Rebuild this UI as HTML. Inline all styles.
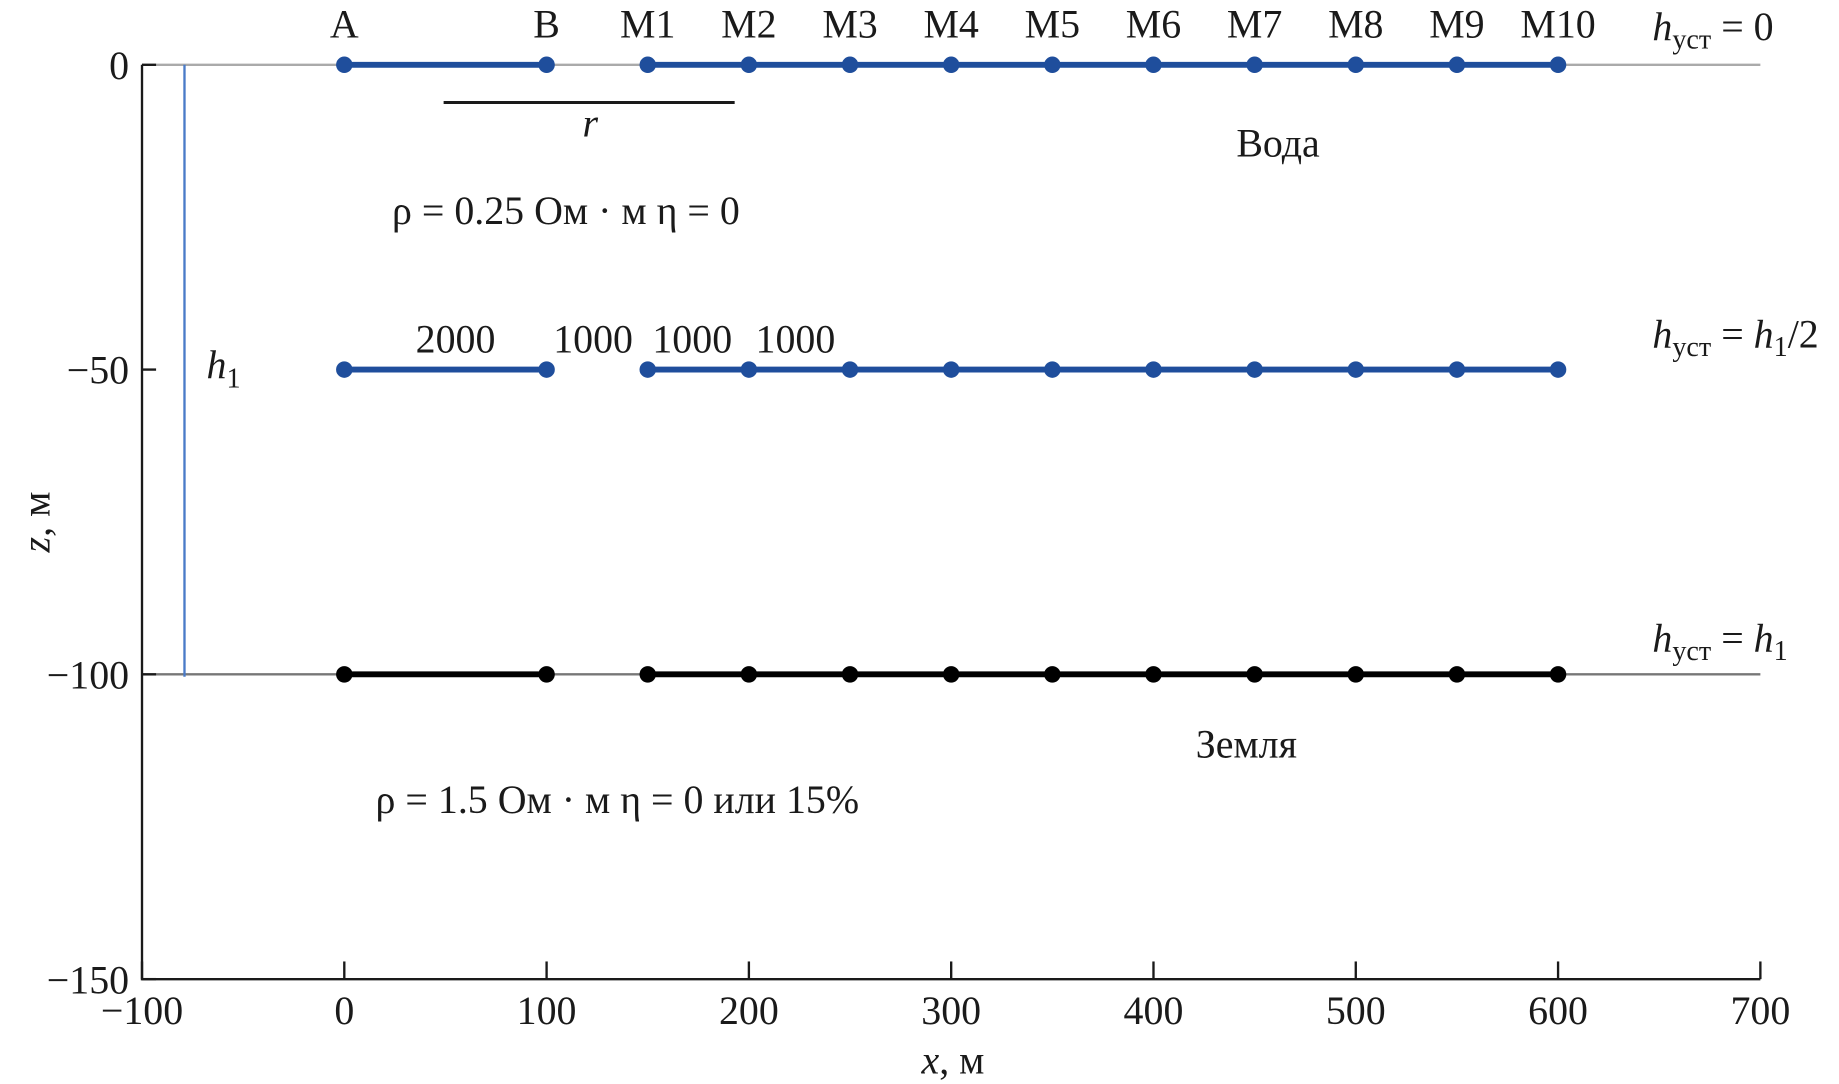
<!DOCTYPE html>
<html><head><meta charset="utf-8"><style>
html,body{margin:0;padding:0;background:#fff;}
svg{display:block;}
text{font-family:"Liberation Serif","DejaVu Serif",serif;fill:#1a1a1a;}
</style></head><body>
<svg id="chart" width="1839" height="1084" viewBox="0 0 1567 920" preserveAspectRatio="none" xmlns="http://www.w3.org/2000/svg">
<g id="g"></g>
</svg>
<script>
const xTicks = [-100,0,100,200,300,400,500,600,700];
const yTicks = [0,-50,-100,-150];
const electrodeNames = ["A","B","M1","M2","M3","M4","M5","M6","M7","M8","M9","M10"];
const electrodeX = [0,100,150,200,250,300,350,400,450,500,550,600];
const levels = [0,-50,-100];
const levelColors = ["#1f4e9c","#1f4e9c","#000000"];
const segLabelsText = ["2000","1000","1000","1000"];
const segLabelsX = [55,123,172,223];

const NS="http://www.w3.org/2000/svg";
const g=document.getElementById('g');
const X0=121,X1=1500,Y0=55,Y1=831;
function sx(v){return X0+(v+100)/800*(X1-X0);}
function sy(v){return Y0+(0-v)/150*(Y1-Y0);}
function mk(tag,attrs,parent){const e=document.createElementNS(NS,tag);for(const k in attrs)e.setAttribute(k,attrs[k]);(parent||g).appendChild(e);return e;}
function txt(s,x,y,size,anchor,extra){const t=mk('text',Object.assign({x:x,y:y,'font-size':size,'text-anchor':anchor||'middle'},extra||{}));t.innerHTML=s;return t;}

let l=mk('line',{x1:X0,y1:sy(0),x2:X1,y2:sy(0),stroke:'#aaaaaa','stroke-width':2});


l=mk('line',{x1:X0,y1:sy(-100),x2:X1,y2:sy(-100),stroke:'#777777','stroke-width':2});



l=mk('path',{d:`M${X0},${sy(0)}V${Y1}H${X1}`,fill:'none',stroke:'#1a1a1a','stroke-width':2});


xTicks.forEach((v,i)=>{
  const tk=mk('line',{x1:sx(v),y1:Y1,x2:sx(v),y2:Y1-15,stroke:'#1a1a1a','stroke-width':2});
  
  
  const t=txt((v<0?'\u2212'+(-v):String(v)),sx(v),869,34);
  
  
});
yTicks.forEach(v=>{
  const tk=mk('line',{x1:X0,y1:sy(v),x2:X0+12,y2:sy(v),stroke:'#1a1a1a','stroke-width':2});
  
  
  const t=txt((v<0?'\u2212'+(-v):String(v)),110,sy(v)+12,34,'end');
  
  
});

l=mk('line',{x1:sx(-79),y1:sy(0),x2:sx(-79),y2:sy(-100)+2,stroke:'#4a7bc8','stroke-width':2});



levels.forEach((z,li)=>{
  const c=levelColors[li];
  const s1=mk('line',{x1:sx(electrodeX[0]),y1:sy(z),x2:sx(electrodeX[1]),y2:sy(z),stroke:c,'stroke-width':5});
  
  
  const s2=mk('line',{x1:sx(electrodeX[2]),y1:sy(z),x2:sx(electrodeX[electrodeX.length-1]),y2:sy(z),stroke:c,'stroke-width':5});
  
  
  electrodeX.forEach((x,i)=>{
    const d=mk('circle',{cx:sx(x),cy:sy(z),r:7,fill:c});
    
    
  });
});
electrodeNames.forEach((n,i)=>{
  const t=txt(n,sx(electrodeX[i]),32,34);
  
  
});
segLabelsText.forEach((s,i)=>{
  const t=txt(s,sx(segLabelsX[i]),299,34);
  
  
});

l=mk('line',{x1:378,y1:87,x2:626,y2:87,stroke:'#1a1a1a','stroke-width':2.5});


</script>
<svg style="position:absolute;left:0;top:0" width="1839" height="1084" viewBox="0 0 1567 920" preserveAspectRatio="none" xmlns="http://www.w3.org/2000/svg">
<g font-family="Liberation Serif, serif" fill="#1a1a1a" font-size="34">
<text x="503" y="116" text-anchor="middle" font-style="italic">r</text>
<text x="1089" y="133" text-anchor="middle">Вода</text>
<text x="334" y="190">ρ = 0.25 Ом · м η = 0</text>
<text x="176" y="321" font-style="italic">h<tspan font-size="24" dy="8" font-style="normal">1</tspan></text>
<text x="1062" y="643" text-anchor="middle">Земля</text>
<text x="320" y="690">ρ = 1.5 Ом · м η = 0 или 15%</text>
<text x="1408" y="34"><tspan font-style="italic">h</tspan><tspan font-size="24" dy="7">уст</tspan><tspan dy="-7"> = 0</tspan></text>
<text x="1408" y="295"><tspan font-style="italic">h</tspan><tspan font-size="24" dy="7">уст</tspan><tspan dy="-7"> = </tspan><tspan font-style="italic">h</tspan><tspan font-size="24" dy="7">1</tspan><tspan dy="-7">/2</tspan></text>
<text x="1408" y="553"><tspan font-style="italic">h</tspan><tspan font-size="24" dy="7">уст</tspan><tspan dy="-7"> = </tspan><tspan font-style="italic">h</tspan><tspan font-size="24" dy="7">1</tspan></text>
<text x="812" y="911" text-anchor="middle"><tspan font-style="italic">x</tspan>, м</text>
<text transform="translate(42,443) rotate(-90)" text-anchor="middle"><tspan font-style="italic">z</tspan>, м</text>
</g>
</svg>
</body></html>
